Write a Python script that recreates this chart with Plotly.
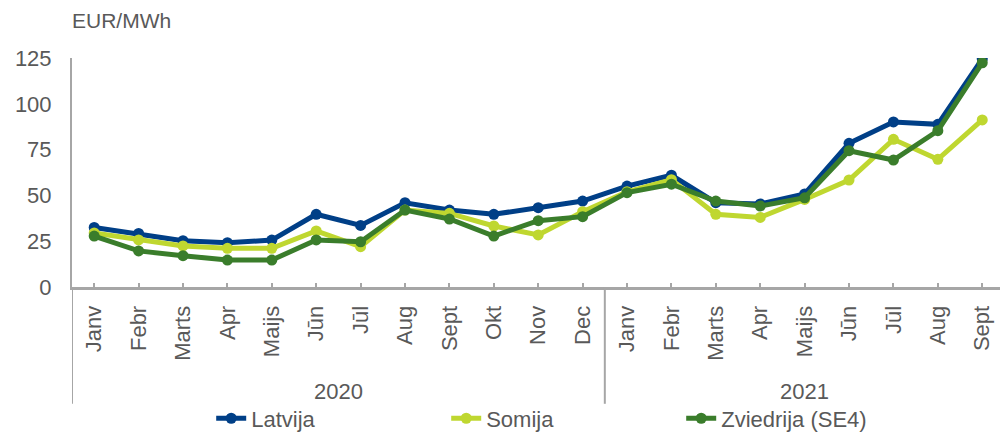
import plotly.graph_objects as go

months = ["Janv", "Febr", "Marts", "Apr", "Maijs", "Jūn", "Jūl", "Aug", "Sept", "Okt", "Nov", "Dec",
          "Janv", "Febr", "Marts", "Apr", "Maijs", "Jūn", "Jūl", "Aug", "Sept"]
years = ["2020", "2021"]
year_counts = [12, 9]

latvija = [32.5, 29.2, 25.3, 24.2, 25.6, 39.7, 33.6, 46.0, 42.0, 39.7, 43.3, 46.9,
           55.1, 61.0, 46.0, 45.3, 50.8, 78.4, 90.1, 88.8, 124.5]
somija = [29.5, 25.7, 22.4, 21.1, 21.1, 30.6, 22.0, 42.0, 40.2, 33.3, 28.4, 41.1,
          52.0, 58.6, 39.7, 38.0, 47.8, 58.4, 80.6, 69.7, 91.2]
zviedrija = [27.8, 19.7, 17.1, 14.7, 14.7, 25.7, 24.7, 42.0, 37.1, 27.8, 36.2, 38.4,
             51.5, 56.1, 46.9, 44.2, 48.7, 74.4, 69.3, 85.3, 122.4]

series = [("Latvija", latvija, "#003F87"),
          ("Somija", somija, "#BFD730"),
          ("Zviedrija (SE4)", zviedrija, "#3A7D2B")]

FONT = "Liberation Sans, Arial, sans-serif"
GREY_TXT = "#595959"
AXIS = "#A6A6A6"

x = list(range(len(months)))
fig = go.Figure()
for name, vals, col in series:
    fig.add_trace(go.Scatter(
        x=x, y=vals, name=name, mode="lines+markers",
        line=dict(color=col, width=5),
        marker=dict(color=col, size=11),
    ))

fig.update_layout(
    width=1000, height=433,
    margin=dict(l=72, r=0, t=58, b=146, autoexpand=False),
    paper_bgcolor="white", plot_bgcolor="white",
    font=dict(family=FONT, color=GREY_TXT),
    showlegend=True,
    legend=dict(orientation="h", x=0.15, xanchor="left", y=-0.574, yanchor="middle",
                font=dict(size=22, color=GREY_TXT, family=FONT),
                entrywidth=190, entrywidthmode="pixels",
                itemwidth=30, bgcolor="rgba(0,0,0,0)"),
)

fig.update_yaxes(
    range=[0, 125], tickvals=[0, 25, 50, 75, 100, 125],
    showgrid=False, zeroline=False, automargin=False,
    showline=True, linecolor=AXIS, linewidth=2,
    ticks="", tickfont=dict(size=22, color=GREY_TXT, family=FONT),
    ticklabelstandoff=14,
)
fig.update_xaxes(
    range=[-0.5, 20.4], tickvals=x, ticktext=months, tickangle=-90,
    showgrid=False, zeroline=False, automargin=False,
    showline=True, linecolor=AXIS, linewidth=3,
    ticks="inside", ticklen=4, tickcolor=AXIS, tickwidth=1.5,
    tickfont=dict(size=22, color=GREY_TXT, family=FONT),
    ticklabelstandoff=7,
)

# group dividers and year labels
start = 0
bounds = [-0.5]
for yr, n in zip(years, year_counts):
    end = start + n
    fig.add_annotation(x=(start - 0.5 + end - 0.5) / 2, y=-0.4585, xref="x", yref="paper",
                       text=yr, showarrow=False, yanchor="middle",
                       font=dict(size=22, color=GREY_TXT, family=FONT))
    bounds.append(end - 0.5)
    start = end
for b in bounds:
    fig.add_shape(type="line", xref="x", yref="paper", x0=b, x1=b, y0=0, y1=-0.51,
                  line=dict(color=AXIS, width=2))

fig.add_annotation(x=-0.002, y=1.162, xref="paper", yref="paper", text="EUR/MWh",
                   showarrow=False, xanchor="left", yanchor="middle",
                   font=dict(size=21, color=GREY_TXT, family=FONT))

fig.write_html("out.html", config={"displayModeBar": False},
               post_script="document.body.style.margin='0px';document.body.style.overflow='hidden';")
